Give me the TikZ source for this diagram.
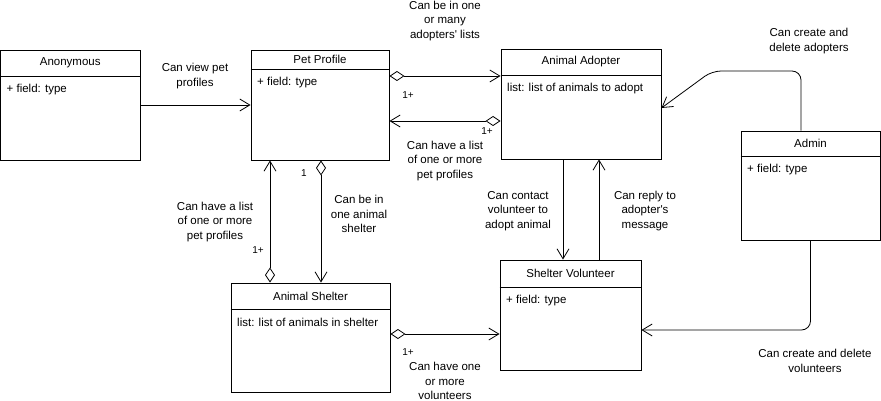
\documentclass[tikz,border=0pt]{standalone}
\usepackage{fontspec}
\setmainfont{Liberation Sans}
\usetikzlibrary{arrows.meta, fit}

% class box: name, left, top, right, bottom, header line, title, field
\newcommand{\umlclass}[8]{%
  \node[classbox, fit={(#2,#3) (#4,#5)}] (#1) {};
  \draw[sep] (#1.west |- 0,#6) -- (#1.east |- 0,#6);
  \node[ctitle] (#1-title) at ({(#2+#4)/2},{(#3+#6)/2}) {#7};
  \node[cfield] (#1-field) at ({#2+6},{#6+13.5}) {#8};
}

\begin{document}
\begin{tikzpicture}[
    x=1pt, y=-1pt,
    font=\fontsize{11.5}{14.5}\selectfont,
    classbox/.style={draw, line width=0.9pt, inner sep=0pt},
    sep/.style={line width=0.9pt},
    ctitle/.style={inner sep=0pt},
    cfield/.style={anchor=west, inner sep=0pt},
    assoc/.style={line width=0.8pt, -{Straight Barb[length=10pt,width=12pt]}},
    aggr/.style={assoc, {Diamond[open,length=15pt,width=10pt]}-{Straight Barb[length=10pt,width=12pt]}},
    lab/.style={align=center, inner sep=0pt},
    mult/.style={font=\fontsize{10}{12}\selectfont, inner sep=0pt}
]
\useasboundingbox (0,0) rectangle (881,401);

% classes
\umlclass{anon}{0.5}{50}{140}{160}{76}{Anonymous}{+ field: type}
\umlclass{pet}{251}{50}{389}{160}{69}{Pet Profile}{+ field: type}
\umlclass{adopter}{501}{49}{661}{159}{75}{Animal Adopter}{list: list of animals to adopt}
\umlclass{admin}{741}{131}{880}{240}{156}{Admin}{+ field: type}
\umlclass{shelter}{231}{283}{390}{392}{309}{Animal Shelter}{list: list of animals in shelter}
\umlclass{volunteer}{500}{260}{641}{370}{287}{Shelter Volunteer}{+ field: type}

% associations
\draw[assoc] (anon) -- (pet);
\draw[aggr] (pet.east |- 0,76) -- (adopter.west |- 0,76);
\draw[aggr] (adopter.west |- 0,121) -- (pet.east |- 0,121);
\draw[aggr] (shelter.north -| 270,0) -- (pet.south -| 270,0);
\draw[aggr] (pet.south -| 321,0) -- (shelter.north -| 321,0);
\draw[assoc] (adopter.south -| 563,0) -- (volunteer.north -| 563,0);
\draw[assoc] (volunteer.north -| 599,0) -- (adopter.south -| 599,0);
\draw[aggr] (shelter.east |- 0,334) -- (volunteer.west |- 0,334);
\draw[assoc, rounded corners=9pt] (admin.north -| 801,0) |- (712,71) -- (adopter.east |- 0,108);
\draw[assoc, rounded corners=9pt] (admin.south) |- (volunteer.east |- 0,330);

% labels
\node[lab] (lview) at (195,76) {Can view pet\\profiles};
\node[lab] (lmany) at (445,21) {Can be in one\\or many\\adopters\textquotesingle{} lists};
\node[lab] (lhas) at (445,161) {Can have a list\\of one or more\\pet profiles};
\node[lab] (lshlist) at (215,222) {Can have a list\\of one or more\\pet profiles};
\node[lab] (lin) at (359,214) {Can be in\\one animal\\shelter};
\node[lab] (lcontact) at (518,211) {Can contact\\volunteer to\\adopt animal};
\node[lab] (lreply) at (645,211) {Can reply to\\adopter\textquotesingle s\\message};
\node[lab] (lvol) at (445,381) {Can have one\\or more\\volunteers};
\node[lab] (ladopt) at (809,41) {Can create and\\delete adopters};
\node[lab] (lvolm) at (815,361) {Can create and delete\\volunteers};

% multiplicities
\node[mult] (m1) at (408,95) {1+};
\node[mult] (m2) at (487,131) {1+};
\node[mult] (m3) at (258,250) {1+};
\node[mult] (m4) at (304,173) {1};
\node[mult] (m5) at (408,352) {1+};

\end{tikzpicture}
\end{document}
